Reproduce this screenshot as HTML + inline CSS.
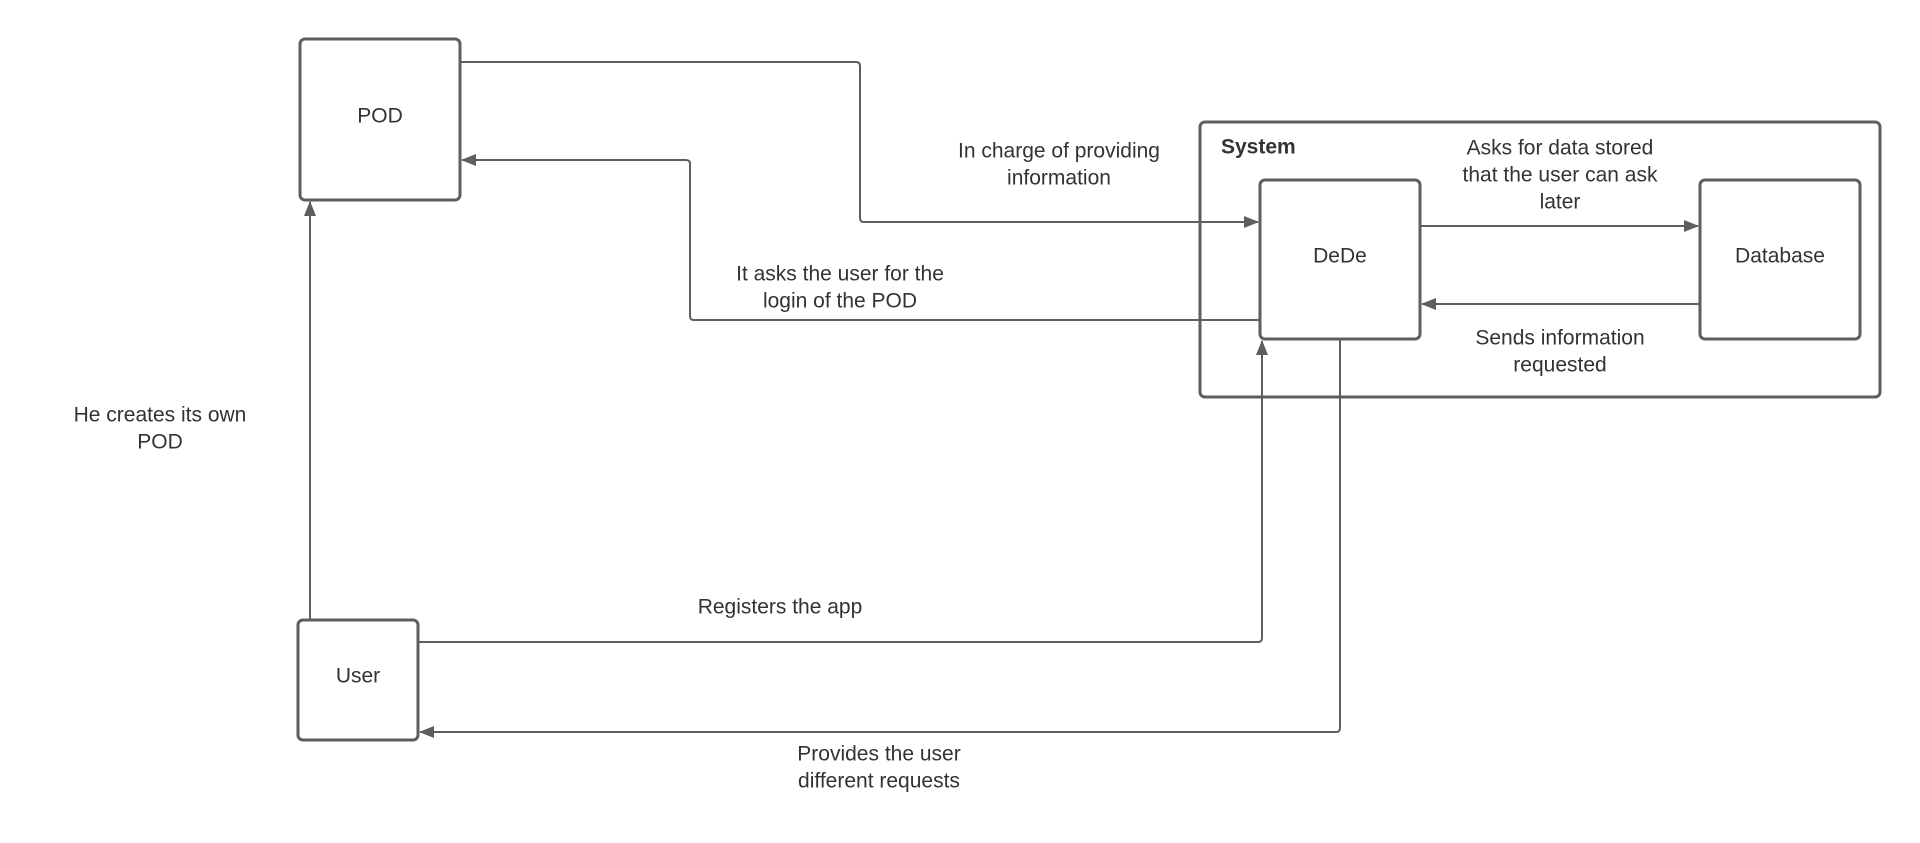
<!DOCTYPE html>
<html><head><meta charset="utf-8"><style>
html,body{margin:0;padding:0;background:#fff;}
svg{display:block;}
text{font-family:"Liberation Sans",sans-serif;font-size:21px;fill:#333;text-anchor:middle;dominant-baseline:middle;}
</style></head><body>
<svg width="1920" height="843" viewBox="0 0 1920 843" xmlns="http://www.w3.org/2000/svg">
<defs>
<marker id="a" markerWidth="15" markerHeight="12" refX="14" refY="6" orient="auto" markerUnits="userSpaceOnUse">
<path d="M0,0 L15,6 L0,12 Z" fill="#5e5e5e"/></marker>
</defs>
<g fill="none" stroke="#5e5e5e" stroke-width="2">
<path d="M460,62 H856 Q860,62 860,66 V218 Q860,222 864,222 H1258" marker-end="url(#a)"/>
<path d="M1260,320 H694 Q690,320 690,316 V164 Q690,160 686,160 H462" marker-end="url(#a)"/>
<path d="M1420,226 H1698" marker-end="url(#a)"/>
<path d="M1700,304 H1422" marker-end="url(#a)"/>
<path d="M310,620 V202" marker-end="url(#a)"/>
<path d="M418,642 H1258 Q1262,642 1262,638 V341" marker-end="url(#a)"/>
<path d="M1340,339 V728 Q1340,732 1336,732 H420" marker-end="url(#a)"/>
</g>
<g fill="none" stroke="#5e5e5e" stroke-width="3">
<rect x="1200" y="122" width="680" height="275" rx="5"/>
<rect x="300" y="39" width="160" height="161" rx="5" fill="#fff"/>
<rect x="1260" y="180" width="160" height="159" rx="5" fill="#fff"/>
<rect x="1700" y="180" width="160" height="159" rx="5" fill="#fff"/>
<rect x="298" y="620" width="120" height="120" rx="5" fill="#fff"/>
</g>
<text x="380" y="117">POD</text>
<text x="1340" y="257">DeDe</text>
<text x="1780" y="257">Database</text>
<text x="358" y="677">User</text>
<text x="1221" y="148" style="text-anchor:start;font-weight:bold">System</text>
<text x="1059" y="152">In charge of providing</text>
<text x="1059" y="179">information</text>
<text x="840" y="275">It asks the user for the</text>
<text x="840" y="302">login of the POD</text>
<text x="1560" y="149">Asks for data stored</text>
<text x="1560" y="176">that the user can ask</text>
<text x="1560" y="203">later</text>
<text x="1560" y="339">Sends information</text>
<text x="1560" y="366">requested</text>
<text x="160" y="416">He creates its own</text>
<text x="160" y="443">POD</text>
<text x="780" y="608">Registers the app</text>
<text x="879" y="755">Provides the user</text>
<text x="879" y="782">different requests</text>
</svg>
</body></html>
